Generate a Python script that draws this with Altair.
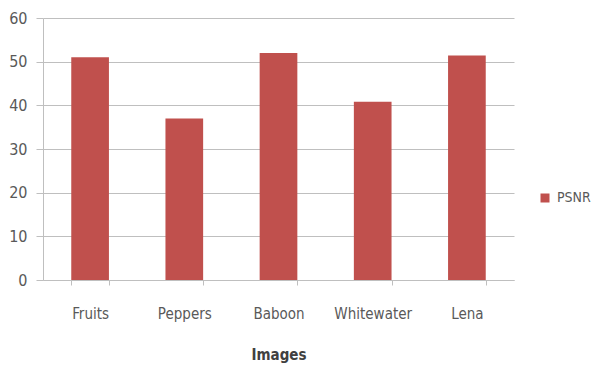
import altair as alt
import pandas as pd

images = ["Fruits", "Peppers", "Baboon", "Whitewater", "Lena"]
psnr = [51.0, 37.0, 52.0, 40.8, 51.4]
series = ["PSNR"] * len(images)

df = pd.DataFrame({"Images": images, "PSNR": psnr, "Series": series})

FONT = "DejaVu Sans Condensed, sans-serif"
GRAY = "#595959"
LINE = "#BFBFBF"

chart = alt.Chart(df).mark_bar().encode(
    x=alt.X("Images:N", sort=images,
            scale=alt.Scale(paddingInner=0.60, paddingOuter=0.30),
            axis=alt.Axis(title="Images", labelAngle=0, tickBand="extent",
                          labelPadding=21, titlePadding=26, titleFontWeight="bold",
                          titleFontSize=15, labelFontSize=15, tickSize=5,
                          domainColor=LINE, tickColor=LINE, grid=False,
                          labelColor=GRAY, titleColor="#404040")),
    y=alt.Y("PSNR:Q", scale=alt.Scale(domain=[0, 60]),
            axis=alt.Axis(title=None, values=[0, 10, 20, 30, 40, 50, 60],
                          tickSize=7, labelPadding=9, labelFontSize=16,
                          domainColor=LINE, tickColor=LINE,
                          gridColor=LINE, labelColor=GRAY)),
    color=alt.Color("Series:N", scale=alt.Scale(range=["#C0504D"]),
                    legend=alt.Legend(title=None, orient="none", legendX=495, legendY=173,
                                      symbolType="square", symbolSize=81,
                                      symbolStrokeWidth=0, labelOffset=5,
                                      labelFontSize=14, labelColor=GRAY))
).properties(
    width=471, height=262,
    autosize=alt.AutoSizeParams(type="none"),
    padding={"left": 43, "top": 18, "right": 79, "bottom": 90}
).configure(font=FONT).configure_view(stroke=None)

chart.save("out.html", embed_options={"renderer": "svg", "actions": False})
